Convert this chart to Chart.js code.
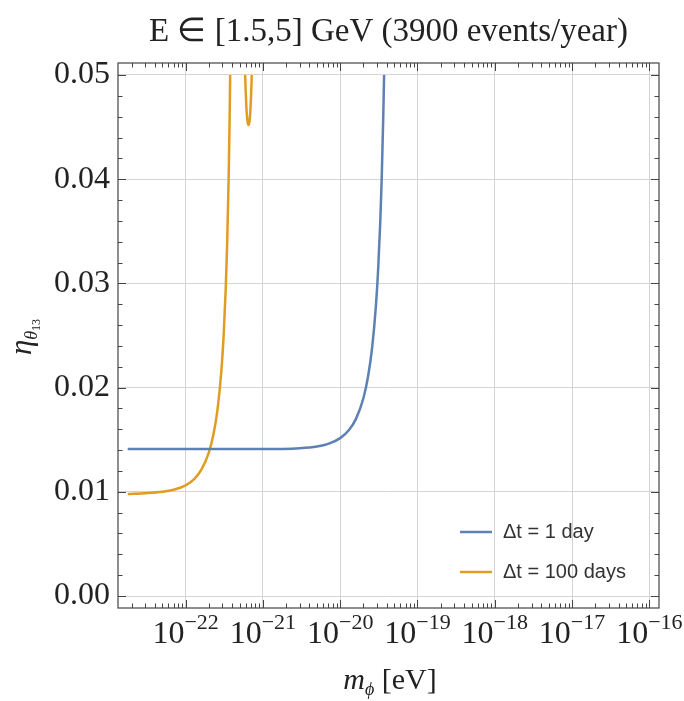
<!DOCTYPE html>
<html>
<head>
<meta charset="utf-8">
<script src="https://cdn.jsdelivr.net/npm/chart.js@4/dist/chart.umd.min.js"></script>
<style>
  body { margin: 0; background: #fff; }
  #wrap { width: 684px; height: 701px; }
</style>
</head>
<body>
<div id="wrap"><canvas id="myChart" width="684" height="701"></canvas></div>
<script>
// data
const massBlue = [1.78e-23, 1e-22, 1e-21, 3e-21, 5e-21, 7e-21, 1e-20, 1.3e-20, 1.6e-20, 2e-20, 2.3e-20, 2.6e-20, 2.9e-20, 3.1e-20, 3.3e-20, 3.45e-20, 3.6e-20, 3.65e-20, 3.7e-20];
const etaBlue = [0.0141, 0.0141, 0.0141, 0.01419, 0.01435, 0.0146, 0.01515, 0.01593, 0.017, 0.019, 0.02111, 0.02396, 0.02788, 0.03138, 0.03589, 0.04023, 0.04573, 0.04788, 0.05];

const massOrange = [1.78e-23, 3e-23, 5e-23, 7e-23, 1e-22, 1.3e-22, 1.6e-22, 2e-22, 2.3e-22, 2.6e-22, 2.9e-22, 3.1e-22, 3.3e-22, 3.45e-22, 3.6e-22, 3.7e-22, 3.77e-22,
  4.8e-22,
  5.89e-22, 6.0e-22, 6.1e-22, 6.3e-22, 6.5e-22, 6.7e-22, 6.9e-22, 7.05e-22, 7.17e-22];
const etaOrange = [0.0098, 0.00987, 0.0100, 0.01019, 0.01062, 0.01125, 0.01212, 0.01378, 0.01557, 0.01804, 0.0216, 0.02492, 0.0294, 0.0339, 0.0400, 0.0452, 0.05,
  null,
  0.05, 0.04827, 0.0470, 0.04562, 0.0452, 0.0455, 0.04675, 0.04827, 0.05];

const seriesLabels = ["Δt = 1 day", "Δt = 100 days"];
const yTicks = [0, 0.01, 0.02, 0.03, 0.04, 0.05];
const xTickExps = [-22, -21, -20, -19, -18, -17, -16];

const blue = "#5E81B5";
const orange = "#E19C24";
const serif = '"Liberation Serif", "Times New Roman", serif';

const toPoints = (xs, ys) => xs.map((x, i) => ({ x: x, y: ys[i] }));

const frameAndLabels = {
  id: "frameAndLabels",
  afterDraw(chart) {
    const ctx = chart.ctx;
    const a = chart.chartArea;
    const xs = chart.scales.x;
    const ys = chart.scales.y;
    ctx.save();

    // frame
    ctx.strokeStyle = "#444";
    ctx.lineWidth = 1.2;
    ctx.strokeRect(a.left, a.top, a.right - a.left, a.bottom - a.top);

    // frame ticks
    ctx.lineWidth = 1;
    ctx.beginPath();
    for (let k = -23; k <= -16; k++) {
      for (let j = 1; j <= 9; j++) {
        const v = j * Math.pow(10, k);
        if (v < xs.min || v > xs.max) continue;
        const px = Math.round(xs.getPixelForValue(v)) + 0.5;
        const len = j === 1 ? 8 : 4.5;
        ctx.moveTo(px, a.bottom); ctx.lineTo(px, a.bottom - len);
        ctx.moveTo(px, a.top); ctx.lineTo(px, a.top + len);
      }
    }
    for (let i = 0; i <= 25; i++) {
      const v = i * 0.002;
      const py = Math.round(ys.getPixelForValue(v)) + 0.5;
      const len = i % 5 === 0 ? 8 : 4.5;
      ctx.moveTo(a.left, py); ctx.lineTo(a.left + len, py);
      ctx.moveTo(a.right, py); ctx.lineTo(a.right - len, py);
    }
    ctx.stroke();

    // x tick labels with superscripts
    ctx.fillStyle = "#222";
    ctx.textBaseline = "alphabetic";
    ctx.textAlign = "left";
    xTickExps.forEach((e) => {
      const px = xs.getPixelForValue(Math.pow(10, e));
      ctx.font = "32px " + serif;
      const w1 = ctx.measureText("10").width;
      const sup = "\u2212" + Math.abs(e);
      ctx.font = "22px " + serif;
      const w2 = ctx.measureText(sup).width;
      const x0 = px - (w1 + w2) / 2;
      ctx.font = "32px " + serif;
      ctx.fillText("10", x0, 643);
      ctx.font = "22px " + serif;
      ctx.fillText(sup, x0 + w1, 629);
    });

    // title
    ctx.font = "33px " + serif;
    ctx.textAlign = "center";
    ctx.fillText("E \u2208 [1.5,5] GeV (3900 events/year)", (a.left + a.right) / 2, 41);

    // x axis title
    ctx.textAlign = "left";
    ctx.font = "italic 30px " + serif;
    const wm = ctx.measureText("m").width;
    ctx.font = "italic 18px " + serif;
    const wp = ctx.measureText("\u03D5").width;
    ctx.font = "30px " + serif;
    const we = ctx.measureText(" [eV]").width;
    let x0 = 390 - (wm + wp + we) / 2;
    ctx.font = "italic 30px " + serif;
    ctx.fillText("m", x0, 689);
    ctx.font = "italic 18px " + serif;
    ctx.fillText("\u03D5", x0 + wm, 695);
    ctx.font = "30px " + serif;
    ctx.fillText(" [eV]", x0 + wm + wp, 689);

    // y axis title
    ctx.save();
    ctx.translate(31, 337);
    ctx.rotate(-Math.PI / 2);
    ctx.font = "italic 31px " + serif;
    const we1 = ctx.measureText("\u03B7").width;
    ctx.font = "italic 18px " + serif;
    const wt = ctx.measureText("\u03B8").width;
    ctx.font = "12px " + serif;
    const wn = ctx.measureText("13").width;
    x0 = -(we1 + wt + wn) / 2;
    ctx.font = "italic 31px " + serif;
    ctx.fillText("\u03B7", x0, 0);
    ctx.font = "italic 18px " + serif;
    ctx.fillText("\u03B8", x0 + we1, 6);
    ctx.font = "12px " + serif;
    ctx.fillText("13", x0 + we1 + wt, 9);
    ctx.restore();

    // legend
    const rows = [532, 572];
    chart.data.datasets.forEach((ds, i) => {
      ctx.strokeStyle = ds.borderColor;
      ctx.lineWidth = 2.5;
      ctx.beginPath();
      ctx.moveTo(460, rows[i]);
      ctx.lineTo(492, rows[i]);
      ctx.stroke();
      ctx.fillStyle = "#333";
      ctx.font = '20px "Liberation Sans", Arial, sans-serif';
      ctx.textBaseline = "middle";
      ctx.fillText(ds.label, 503, rows[i]);
    });

    ctx.restore();
  }
};

const config = {
  type: "line",
  data: {
    datasets: [
      {
        label: seriesLabels[0],
        data: toPoints(massBlue, etaBlue),
        borderColor: blue,
        borderWidth: 2.5,
        pointRadius: 0,
        cubicInterpolationMode: "monotone",
        spanGaps: false,
      },
      {
        label: seriesLabels[1],
        data: toPoints(massOrange, etaOrange),
        borderColor: orange,
        borderWidth: 2.5,
        pointRadius: 0,
        cubicInterpolationMode: "monotone",
        spanGaps: false,
      },
    ],
  },
  options: {
    responsive: false,
    animation: false,
    layout: { padding: { top: 63, right: 25, left: 0, bottom: 0 } },
    plugins: {
      legend: { display: false },
      title: { display: false },
      tooltip: { enabled: false },
    },
    scales: {
      x: {
        type: "logarithmic",
        min: Math.pow(10, -22.875),
        max: Math.pow(10, -15.875),
        afterBuildTicks: (s) => { s.ticks = xTickExps.map((e) => ({ value: Math.pow(10, e) })); },
        afterFit: (s) => { s.height = 93; },
        ticks: { display: false },
        grid: { color: "#d4d4d4", drawTicks: false },
        border: { display: false },
      },
      y: {
        type: "linear",
        min: -0.00115,
        max: 0.05115,
        afterBuildTicks: (s) => { s.ticks = yTicks.map((v) => ({ value: v })); },
        afterFit: (s) => { s.width = 118; },
        ticks: {
          padding: 8,
          color: "#222",
          font: { family: serif, size: 32 },
          callback: (v) => v.toFixed(2),
        },
        grid: { color: "#d4d4d4", drawTicks: false },
        border: { display: false },
      },
    },
  },
  plugins: [frameAndLabels],
};

const myChart = new Chart(document.querySelector("#myChart"), config);
</script>
</body>
</html>
